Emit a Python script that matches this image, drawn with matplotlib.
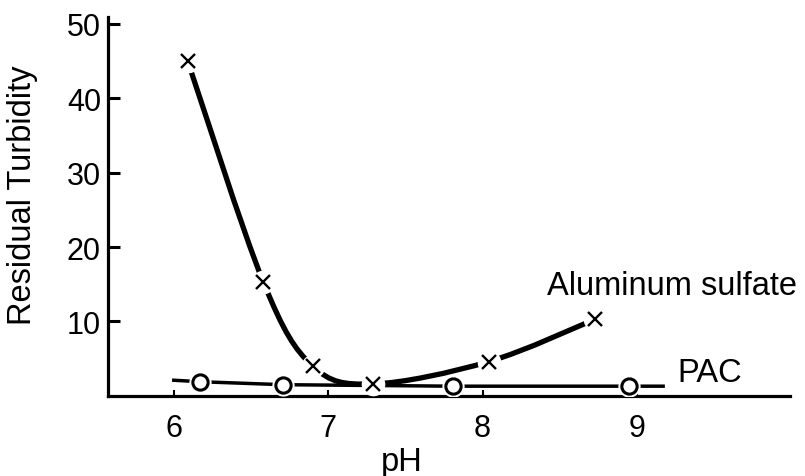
import matplotlib
matplotlib.use("Agg")
import matplotlib.pyplot as plt
from matplotlib.path import Path
from matplotlib.patches import PathPatch

plt.rcParams['font.family'] = ['Liberation Sans', 'DejaVu Sans']

# Al2(SO4)3 - crosses
alum_ph = [6.09, 6.58, 6.90, 7.29, 8.04, 8.73]
alum_turb = [45.0, 15.3, 4.0, 1.6, 4.6, 10.3]

# PAC - open circles
pac_ph = [6.17, 6.71, 7.81, 8.95]
pac_turb = [1.9, 1.5, 1.3, 1.3]
# drawn line runs a bit past the first and last circle
pac_line_ph = [6.0] + pac_ph + [9.17]
pac_line_turb = [2.1] + pac_turb + [1.3]

x_ticks = [6, 7, 8, 9]
y_ticks = [10, 20, 30, 40, 50]


def smooth_path(xs, ys):
    # catmull-rom through the points, drawn as cubic bezier segments
    pts = list(zip(xs, ys))
    verts = [pts[0]]
    codes = [Path.MOVETO]
    n = len(pts)
    for i in range(n - 1):
        p0 = pts[max(i - 1, 0)]
        p1 = pts[i]
        p2 = pts[i + 1]
        p3 = pts[min(i + 2, n - 1)]
        c1 = (p1[0] + (p2[0] - p0[0]) / 6, p1[1] + (p2[1] - p0[1]) / 6)
        c2 = (p2[0] - (p3[0] - p1[0]) / 6, p2[1] - (p3[1] - p1[1]) / 6)
        verts += [c1, c2, p2]
        codes += [Path.CURVE4] * 3
    return Path(verts, codes)


fig = plt.figure(figsize=(8.05, 4.77), dpi=100)
ax = fig.add_axes([0.134, 0.168, 0.847, 0.794])

ax.add_patch(PathPatch(smooth_path(alum_ph, alum_turb), fill=False,
                       lw=3.8, color='black', capstyle='round', zorder=2))
ax.plot(pac_line_ph, pac_line_turb, color='black', lw=2.5, zorder=2)

# white halos make the little gaps round the markers
ax.plot(alum_ph, alum_turb, ls='none', marker='o', ms=16, mfc='white',
        mec='white', zorder=3)
ax.plot(pac_ph, pac_turb, ls='none', marker='o', ms=15, mfc='white',
        mec='white', zorder=3)
ax.plot(alum_ph, alum_turb, ls='none', marker='x', ms=10, mew=1.7,
        color='black', zorder=4)
ax.plot(pac_ph, pac_turb, ls='none', marker='o', ms=11, mew=2.2,
        mfc='white', mec='black', zorder=4)

ax.set_xlim(5.573, 9.99)
ax.set_ylim(0, 50.9)
ax.set_xticks(x_ticks)
ax.set_yticks(y_ticks)
ax.tick_params(axis='x', direction='in', length=4.5, width=1.5, pad=12,
               labelsize=22)
ax.tick_params(axis='y', direction='in', length=8.5, width=2.2, pad=5,
               labelsize=22)

for s in ['top', 'right']:
    ax.spines[s].set_visible(False)
for s in ['left', 'bottom']:
    ax.spines[s].set_linewidth(2.3)

ax.text(-0.125, 0.533, 'Residual Turbidity', transform=ax.transAxes,
        rotation=90, ha='center', va='center', fontsize=23.5)
ax.text(0.431, -0.174, 'pH', transform=ax.transAxes, ha='center',
        va='center', fontsize=23.5)
ax.text(8.42, 14.8, 'Aluminum sulfate', ha='left', va='center',
        fontsize=23.5, clip_on=False)
ax.text(9.26, 3.2, 'PAC', ha='left', va='center', fontsize=23.5)

fig.savefig('out.png', dpi=100)
